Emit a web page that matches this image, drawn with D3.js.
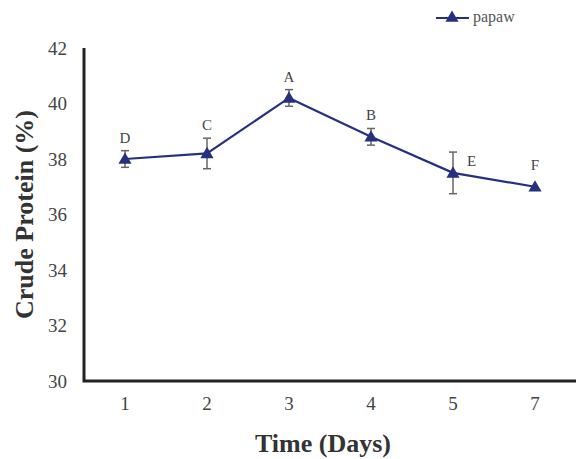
<!DOCTYPE html>
<html>
<head>
<meta charset="utf-8">
<script src="https://cdn.jsdelivr.net/npm/d3@7"></script>
<style>
  html, body { margin: 0; padding: 0; background: #fff; }
  svg { display: block; }
</style>
</head>
<body>
<svg id="chart" width="576" height="459"></svg>
<script>
// Crude protein of papaw over storage time
const days = ["1", "2", "3", "4", "5", "7"];
const protein = [38.0, 38.2, 40.2, 38.8, 37.5, 37.0];
const errors = [0.3, 0.55, 0.3, 0.3, 0.75, 0.08];
const letters = ["D", "C", "A", "B", "E", "F"];
const yTicks = [30, 32, 34, 36, 38, 40, 42];

const svg = d3.select("#chart");
const margin = { left: 84, right: 0, top: 48, bottom: 78 };
const W = 576, H = 459;

const x = d3.scaleBand().domain(days).range([margin.left, W - margin.right]);
const y = d3.scaleLinear().domain([30, 42]).range([H - margin.bottom, margin.top]);

const serif = "'Liberation Serif', 'Times New Roman', serif";
const navy = "#26307f";

// y axis: tick labels only, plus heavy spine
const yAxis = svg.append("g")
  .attr("transform", `translate(${margin.left},0)`)
  .call(d3.axisLeft(y).tickValues(yTicks).tickSize(0).tickPadding(17));
yAxis.select(".domain").remove();
yAxis.selectAll("text")
  .attr("font-family", serif).attr("font-size", 19).attr("fill", "#444");

const xAxis = svg.append("g")
  .attr("transform", `translate(0,${y(30)})`)
  .call(d3.axisBottom(x).tickSize(0).tickPadding(16));
xAxis.select(".domain").remove();
xAxis.selectAll("text")
  .attr("font-family", serif).attr("font-size", 19).attr("fill", "#444");

svg.append("path")
  .attr("d", `M${margin.left},${y(42)}V${y(30)}H${W}`)
  .attr("fill", "none").attr("stroke", "#222").attr("stroke-width", 3);

const cx = d => x(d) + x.bandwidth() / 2;
const pts = days.map((d, i) => ({ d, v: protein[i], e: errors[i], l: letters[i] }));

// error bars
const eb = svg.append("g").attr("stroke", "#666").attr("stroke-width", 1.5);
pts.filter(p => p.e > 0.1).forEach(p => {
  const x0 = cx(p.d);
  eb.append("line").attr("x1", x0).attr("x2", x0).attr("y1", y(p.v + p.e)).attr("y2", y(p.v - p.e));
  [p.v + p.e, p.v - p.e].forEach(v => {
    eb.append("line").attr("x1", x0 - 4).attr("x2", x0 + 4).attr("y1", y(v)).attr("y2", y(v));
  });
});

// series line
svg.append("path")
  .datum(pts)
  .attr("fill", "none").attr("stroke", navy).attr("stroke-width", 2.2)
  .attr("d", d3.line().x(p => cx(p.d)).y(p => y(p.v)));

// triangle markers
const tri = d3.symbol().type(d3.symbolTriangle).size(75);
svg.selectAll(".mk").data(pts).join("path")
  .attr("class", "mk")
  .attr("transform", p => `translate(${cx(p.d)},${y(p.v) + 1})`)
  .attr("d", tri).attr("fill", navy);

// significance letters
svg.selectAll(".lt").data(pts).join("text")
  .attr("class", "lt")
  .attr("x", p => p.l === "E" ? cx(p.d) + 14 : cx(p.d))
  .attr("y", p => p.l === "E" ? y(p.v) - 7 : y(p.v) - Math.max(p.e, 0.3) * 27.75 - 8)
  .attr("text-anchor", p => p.l === "E" ? "start" : "middle")
  .attr("font-family", serif).attr("font-size", 15).attr("fill", "#444")
  .text(p => p.l);

// legend
const lg = svg.append("g").attr("transform", "translate(436,18)");
lg.append("line").attr("x1", 0).attr("x2", 33).attr("y1", 0).attr("y2", 0)
  .attr("stroke", navy).attr("stroke-width", 2.2);
lg.append("path").attr("transform", "translate(16,0)").attr("d", tri).attr("fill", navy);
lg.append("text").attr("x", 37).attr("y", 4)
  .attr("font-family", serif).attr("font-size", 16).attr("fill", "#555").text("papaw");

// axis titles
svg.append("text")
  .attr("transform", `translate(33,${(y(30) + y(42)) / 2}) rotate(-90)`)
  .attr("text-anchor", "middle")
  .attr("font-family", serif).attr("font-weight", "bold").attr("font-size", 26).attr("fill", "#333")
  .text("Crude Protein (%)");
svg.append("text")
  .attr("x", 323).attr("y", 452)
  .attr("text-anchor", "middle")
  .attr("font-family", serif).attr("font-weight", "bold").attr("font-size", 26).attr("fill", "#333")
  .text("Time (Days)");
</script>
</body>
</html>
